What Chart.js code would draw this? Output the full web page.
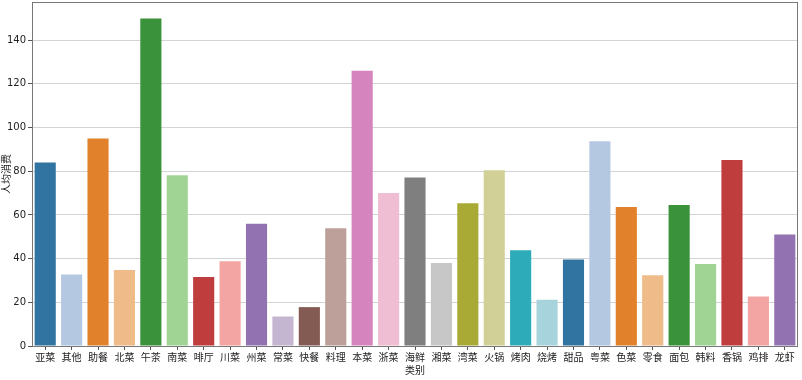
<!DOCTYPE html>
<html>
<head>
<meta charset="utf-8">
<script src="https://cdn.jsdelivr.net/npm/chart.js@4/dist/chart.umd.min.js"></script>
<style>
html,body{margin:0;padding:0;background:#fff;}
#wrap{width:802px;height:380px;position:relative;}
</style>
</head>
<body>
<div id="wrap"><canvas id="c" width="802" height="380"></canvas></div>
<script>
const categories = ["亚菜","其他","助餐","北菜","午茶","南菜","啡厅","川菜","州菜","常菜","快餐","料理","本菜","浙菜","海鲜","湘菜","湾菜","火锅","烤肉","烧烤","甜品","粤菜","色菜","零食","面包","韩料","香锅","鸡排","龙虾"];
const values = [84,32.7,95,34.8,150,78.2,31.6,38.8,56,13.5,17.8,53.9,126,70,77.2,38,65.4,80.5,43.8,21.2,39.6,93.8,63.6,32.4,64.5,37.5,85.2,22.7,51];
const yTicks = [0,20,40,60,80,100,120,140];
const palette = ["#1f77b4","#aec7e8","#ff7f0e","#ffbb78","#2ca02c","#98df8a","#d62728","#ff9896","#9467bd","#c5b0d5","#8c564b","#c49c94","#e377c2","#f7b6d2","#7f7f7f","#c7c7c7","#bcbd22","#dbdb8d","#17becf","#9edae5"];
// seaborn-desaturated tab20
function desat(hex, p){
  const r=parseInt(hex.slice(1,3),16)/255,g=parseInt(hex.slice(3,5),16)/255,b=parseInt(hex.slice(5,7),16)/255;
  const mx=Math.max(r,g,b),mn=Math.min(r,g,b);let h=0,s=0,l=(mx+mn)/2;
  if(mx!==mn){const d=mx-mn;s=l>0.5?d/(2-mx-mn):d/(mx+mn);
    if(mx===r)h=((g-b)/d+(g<b?6:0));else if(mx===g)h=(b-r)/d+2;else h=(r-g)/d+4;h/=6;}
  s*=p;
  function hue(p,q,t){if(t<0)t+=1;if(t>1)t-=1;if(t<1/6)return p+(q-p)*6*t;if(t<1/2)return q;if(t<2/3)return p+(q-p)*(2/3-t)*6;return p;}
  let R,G,B;if(s===0){R=G=B=l;}else{const q=l<0.5?l*(1+s):l+s-l*s,pp=2*l-q;R=hue(pp,q,h+1/3);G=hue(pp,q,h);B=hue(pp,q,h-1/3);}
  return "rgb("+Math.round(R*255)+","+Math.round(G*255)+","+Math.round(B*255)+")";
}
const colors = categories.map((_,i)=>desat(palette[i%20],0.75));

const frame = {
  id:'frame',
  afterDraw(chart){
    const a=chart.chartArea, ctx=chart.ctx;
    ctx.save();ctx.strokeStyle='#777';ctx.lineWidth=1;
    ctx.strokeRect(Math.round(a.left)+0.5,Math.round(a.top)+0.5,Math.round(a.right-a.left)-1,Math.round(a.bottom-a.top));
    ctx.restore();
  }
};

new Chart(document.getElementById('c'),{
  type:'bar',
  data:{labels:categories,datasets:[{data:values,backgroundColor:colors,borderWidth:0,categoryPercentage:1,barPercentage:0.8}]},
  options:{
    responsive:false,animation:false,
    layout:{padding:{left:0,right:4,top:2,bottom:4}},
    plugins:{legend:{display:false},tooltip:{enabled:false}},
    scales:{
      x:{
        grid:{display:true,drawOnChartArea:false,drawTicks:true,tickLength:4,tickColor:'#555',offset:false},
        border:{display:false},
        ticks:{color:'#222',font:{family:'"Noto Sans CJK SC"',size:10},maxRotation:0,autoSkip:false,padding:1},
        title:{display:true,text:'类别',color:'#222',font:{family:'"Noto Sans CJK SC"',size:10},padding:{top:0,bottom:0}},
        afterFit(s){s.height=30;s.paddingLeft=0;s.paddingRight=0;}
      },
      y:{
        min:0,max:157.5,
        afterBuildTicks(s){s.ticks=yTicks.map(v=>({value:v}));},
        grid:{color:'#d4d4d4',lineWidth:1,tickLength:4,tickColor:'#555'},
        border:{display:false},
        ticks:{color:'#222',font:{family:'"DejaVu Sans"',size:10},padding:2},
        title:{display:true,text:'人均消费',color:'#222',font:{family:'"Noto Sans CJK SC"',size:10},padding:{top:0,bottom:0}},
        afterFit(s){s.width=32;s.paddingTop=0;s.paddingBottom=0;}
      }
    }
  },
  plugins:[frame]
});
</script>
</body>
</html>
